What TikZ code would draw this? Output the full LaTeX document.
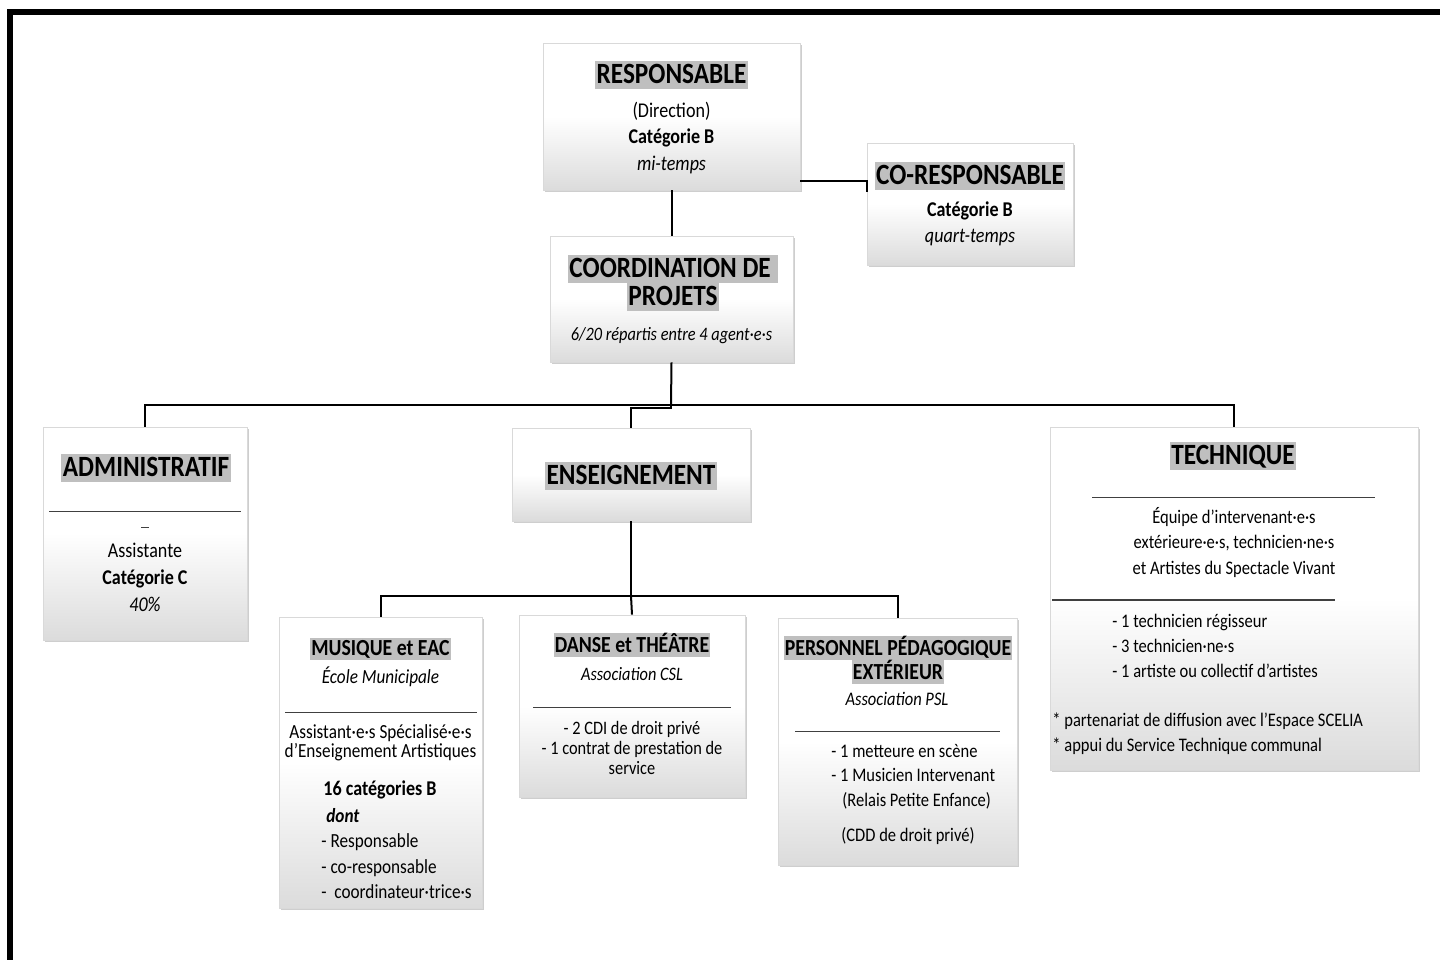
\documentclass[tikz,border=0pt]{standalone}
\usepackage{fontspec}
\setmainfont{Carlito}[FakeStretch=0.86]
\usetikzlibrary{shadows}
\definecolor{surlig}{gray}{0.75}
\newcommand{\surligne}[1]{{\setlength{\fboxsep}{0pt}\colorbox{surlig}{\rule[-0.19em]{0pt}{0.94em}\kern0.05em#1\kern0.05em}}}
\newcommand{\lignes}[2]{\begin{tabular}[t]{@{}#1@{}}#2\end{tabular}}
\tikzset{
  boite/.style={draw=black!15, inner sep=0pt, top color=white, bottom color=black!14, middle color=white,
    drop shadow={shadow xshift=1.2pt, shadow yshift=-1.2pt, fill=black!38}},
  lien/.style={line width=1pt},
  titre/.style={anchor=base, inner sep=0pt, font=\fontsize{14.7}{9}\selectfont\bfseries},
  soustitre/.style={anchor=base, inner sep=0pt, font=\fontsize{11.5}{7}\selectfont\bfseries},
  texte/.style 2 args={anchor=base, inner sep=0pt, font=\fontsize{#1}{#2}\selectfont},
  trait/.style={inner sep=0pt, text=black!75},
}
\begin{document}
\begin{tikzpicture}[x=0.5pt, y=-0.5pt]
\useasboundingbox (0,0) rectangle (1440,960);
\fill (7,9) rectangle (1440,15);
\fill (7,9) rectangle (13,960);

% boites
\node[boite, minimum width=128.5pt, minimum height=73.5pt] (resp) at (671.5,116.5) {};
\node[boite, minimum width=103pt, minimum height=61pt] (cores) at (970,204) {};
\node[boite, minimum width=121.5pt, minimum height=63pt] (coord) at (671.5,299) {};
\node[boite, minimum width=102pt, minimum height=106.5pt] (admin) at (145,533.5) {};
\node[boite, minimum width=119pt, minimum height=46.5pt] (enseig) at (631,474.5) {};
\node[boite, minimum width=184pt, minimum height=171.5pt] (tech) at (1234,598.5) {};
\node[boite, minimum width=101.5pt, minimum height=145.5pt] (musique) at (380.5,762.5) {};
\node[boite, minimum width=113pt, minimum height=91pt] (danse) at (632,706) {};
\node[boite, minimum width=119.5pt, minimum height=123.5pt] (perso) at (897.5,741.5) {};

% liens
\coordinate (c1) at (867,181);
\coordinate (c2) at (867,192);
\coordinate (bus) at (671,405);
\coordinate (bus2) at (631,596);
\draw[lien] (resp.south) -- (coord.north);
\draw[lien] (c1 -| resp.east) -- (c1) -- (c2);
\draw[lien] (coord.south) -- (bus);
\draw[lien] (admin.north) |- (bus) -| (tech.north);
\draw[lien] (bus) -- ++(0,3) -| (enseig.north);
\draw[lien] (enseig.south) -- (bus2);
\draw[lien] (musique.north) |- (bus2) -| (perso.north);
\draw[lien] (bus2) -- (danse.north);

% RESPONSABLE
\node[titre] (resp-t) at (671.5,83.5) {\surligne{RESPONSABLE}};
\node[texte={10.5}{13.25}] (resp-x) at (671.5,117) {\lignes{c}{(Direction)\\ \textbf{Catégorie B}\\ \textit{mi-temps}}};

% CO-RESPONSABLE
\node[titre] (cores-t) at (970,184.5) {\surligne{CO-RESPONSABLE}};
\node[texte={10.5}{13}] (cores-x) at (970,216.5) {\lignes{c}{\textbf{Catégorie B}\\ \textit{quart-temps}}};

% COORDINATION
\node[titre] (coord-t) at (673,277.5) {\lignes{c}{\surligne{COORDINATION DE\ }\\ \surligne{PROJETS}}};
\node[texte={9.5}{12}] (coord-x) at (671.5,340) {\textit{6/20 répartis entre 4 agent·e·s}};

% ADMINISTRATIF
\node[titre] (admin-t) at (146,476.5) {\surligne{ADMINISTRATIF}};
\node[trait] (admin-l1) at (145,511) {\rule{96pt}{0.5pt}};
\node[trait] (admin-l2) at (145,527) {\rule{4pt}{0.5pt}};
\node[texte={10.5}{13.5}] (admin-x) at (145,557) {\lignes{c}{Assistante\\ \textbf{Catégorie C}\\ \textit{40\%}}};

% ENSEIGNEMENT
\node[titre] (enseig-t) at (631,484.5) {\surligne{ENSEIGNEMENT}};

% TECHNIQUE
\node[titre] (tech-t) at (1233,464.5) {\surligne{TECHNIQUE}};
\node[trait] (tech-l1) at (1233.5,497) {\rule{141.5pt}{0.5pt}};
\node[texte={9.6}{12.75}] (tech-x) at (1234,523) {\lignes{c}{Équipe d’intervenant·e·s\\ extérieure·e·s, technicien·ne·s\\ et Artistes du Spectacle Vivant}};
\node[trait] (tech-l2) at (1193.5,600) {\rule{141.5pt}{1pt}};
\node[texte={9.6}{12.5}, anchor=base west] (tech-liste) at (1112,627) {\lignes{l}{- 1 technicien régisseur\\ - 3 technicien·ne·s\\ - 1 artiste ou collectif d’artistes}};
\node[texte={9.6}{12.5}, anchor=base west] (tech-notes) at (1052,726) {\lignes{l}{{*} partenariat de diffusion avec l’Espace SCELIA\\ {*} appui du Service Technique communal}};

% MUSIQUE et EAC
\node[soustitre] (musique-t) at (380.5,655.5) {\surligne{MUSIQUE et EAC}};
\node[texte={10}{12}] (musique-s) at (380.5,683) {\textit{École Municipale}};
\node[trait] (musique-l) at (381,712) {\rule{96pt}{0.5pt}};
\node[texte={10}{9}] (musique-x) at (380.5,738) {\lignes{c}{Assistant·e·s Spécialisé·e·s\\ d’Enseignement Artistiques}};
\node[texte={10.5}{12}] (musique-b) at (380,795) {\textbf{16 catégories B}};
\node[texte={10}{12.75}, anchor=base west] (musique-liste) at (321,822) {\lignes{l}{\hspace*{2.5pt}\textbf{\textit{dont}}\\ - Responsable\\ - co-responsable\\ -~~coordinateur·trice·s}};

% DANSE et THEATRE
\node[soustitre] (danse-t) at (632,652.5) {\surligne{DANSE et THÉÂTRE}};
\node[texte={9.5}{12}] (danse-s) at (632,680) {\textit{Association CSL}};
\node[trait] (danse-l) at (632,707) {\rule{99pt}{0.5pt}};
\node[texte={9.5}{10}] (danse-x) at (632,734) {\lignes{c}{- 2 CDI de droit privé\\ - 1 contrat de prestation de\\ service}};

% PERSONNEL PEDAGOGIQUE
\node[soustitre] (perso-t) at (898,655.5) {\lignes{c}{\surligne{PERSONNEL PÉDAGOGIQUE}\\ \surligne{EXTÉRIEUR}}};
\node[texte={9.6}{12}] (perso-s) at (897,705) {\textit{Association PSL}};
\node[trait] (perso-l) at (897.5,731) {\rule{102.5pt}{0.5pt}};
\node[texte={9.6}{12.25}, anchor=base west] (perso-liste) at (831,757) {\lignes{l}{- 1 metteure en scène\\ - 1 Musicien Intervenant\\ \hspace*{5.5pt}(Relais Petite Enfance)}};
\node[texte={9.6}{12}] (perso-x) at (908,841) {(CDD de droit privé)};
\end{tikzpicture}
\end{document}
